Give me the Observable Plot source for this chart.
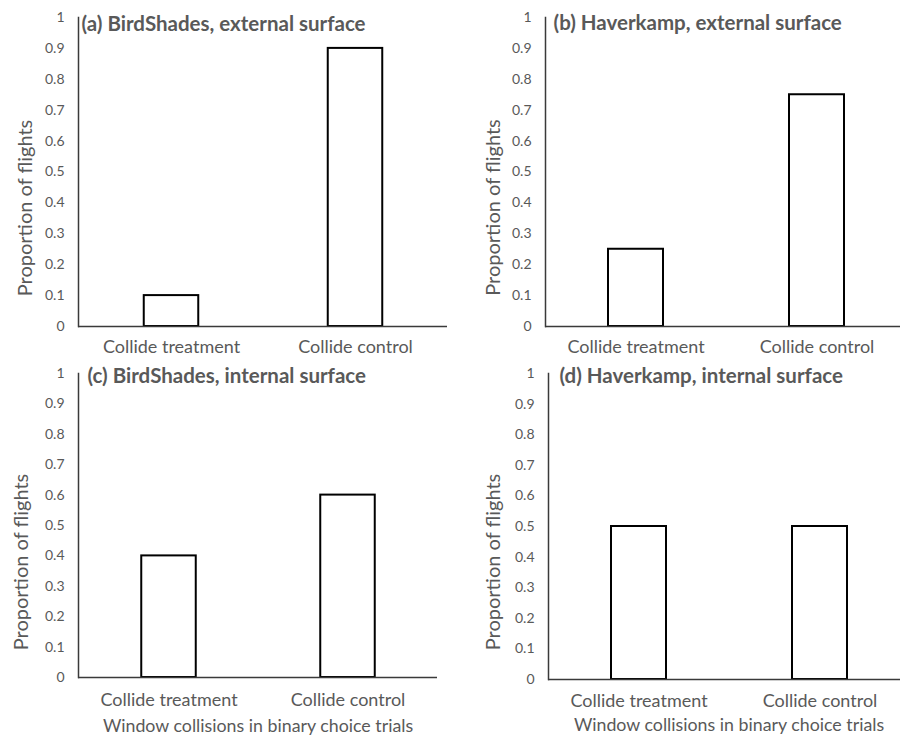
<!DOCTYPE html>
<html>
<head>
<meta charset="utf-8">
<script src="https://cdn.jsdelivr.net/npm/d3@7"></script>
<script src="https://cdn.jsdelivr.net/npm/@observablehq/plot@0.6"></script>
<style>
  html, body { margin: 0; padding: 0; background: #fff; overflow: hidden; }
  #wrap { position: relative; width: 900px; height: 736px; overflow: hidden; background: #fff; }
  #wrap > div { position: absolute; }
  svg { font-family: Lato, "Open Sans", sans-serif; }
</style>
</head>
<body>
<div id="wrap"></div>
<script>
// ---- data ----
const categories = ["Collide treatment", "Collide control"];
const panelTitles = [
  "(a) BirdShades, external surface",
  "(b) Haverkamp, external surface",
  "(c) BirdShades, internal surface",
  "(d) Haverkamp, internal surface"
];
const birdShadesExternal = [0.1, 0.9];
const haverkampExternal = [0.25, 0.75];
const birdShadesInternal = [0.4, 0.6];
const haverkampInternal = [0.5, 0.5];
const yTicks = [0, 0.1, 0.2, 0.3, 0.4, 0.5, 0.6, 0.7, 0.8, 0.9, 1];
const yLabel = "Proportion of flights";
const xLabel = "Window collisions in binary choice trials";

const seriesList = [birdShadesExternal, haverkampExternal, birdShadesInternal, haverkampInternal];

// ---- layout (pixels) ----
const layouts = [
  {left: 0,   top: 0,   h: 360, axisX: 78, xEnd: 447, top1: 17, base: 326, tDx: 3,  tDy: 7,  yDx: -53, yDy: 36,   catPad: 14, showX: false, xDx: 0,   xDy: 0},
  {left: 450, top: 0,   h: 360, axisX: 95, xEnd: 457, top1: 17, base: 326, tDx: 8,  tDy: 6,  yDx: -52, yDy: 35.5, catPad: 14, showX: false, xDx: 0,   xDy: 0},
  {left: 0,   top: 360, h: 376, axisX: 78, xEnd: 437, top1: 13, base: 317, tDx: 9,  tDy: 3,  yDx: -57, yDy: 36.5, catPad: 16, showX: true,  xDx: 0,   xDy: 49},
  {left: 450, top: 360, h: 376, axisX: 98, xEnd: 460, top1: 13, base: 319, tDx: 11, tDy: 3,  yDx: -55, yDy: 35.5, catPad: 15, showX: true,  xDx: 4.5, xDy: 46}
];

const textColor = "#595959";
const axisColor = "#3a3a3a";
const barOuterWidth = 55;

const wrap = document.getElementById("wrap");

seriesList.forEach((values, i) => {
  const L = layouts[i];
  const W = 450;
  const rows = categories.map((c, j) => ({category: c, value: values[j]}));
  const band = (L.xEnd - L.axisX) / 2;
  const inset = (band - barOuterWidth) / 2;
  const marks = [
    Plot.barY(rows, {x: "category", y: "value", fill: "white", stroke: "black", strokeWidth: 2, insetLeft: inset, insetRight: inset}),
    Plot.ruleY([0], {stroke: axisColor, strokeWidth: 1.5}),
    Plot.frame({anchor: "left", stroke: axisColor, strokeWidth: 1.5}),
    Plot.axisY({ticks: yTicks, tickSize: 0, tickPadding: 14, tickFormat: d => String(+d.toFixed(1)), fontSize: 14, fill: textColor, label: null}),
    Plot.axisX({tickSize: 0, tickPadding: L.catPad, fontSize: 18, fill: textColor, label: null}),
    Plot.text([panelTitles[i]], {frameAnchor: "top-left", dx: L.tDx, dy: L.tDy, textAnchor: "start", lineAnchor: "middle", fontWeight: "bold", fontSize: 20.5, fill: textColor}),
    Plot.text([yLabel], {frameAnchor: "left", rotate: -90, dx: L.yDx, dy: L.yDy, textAnchor: "middle", lineAnchor: "middle", fontSize: 20, fill: textColor})
  ];
  if (L.showX) {
    marks.push(Plot.text([xLabel], {frameAnchor: "bottom", dx: L.xDx, dy: L.xDy, textAnchor: "middle", lineAnchor: "middle", fontSize: 17.8, fill: textColor}));
  }
  const chart = Plot.plot({
    width: W,
    height: L.h,
    marginLeft: L.axisX,
    marginRight: Math.max(0, W - L.xEnd),
    marginTop: L.top1,
    marginBottom: L.h - L.base,
    style: {background: "white", overflow: "hidden"},
    x: {domain: categories, range: [L.axisX, L.xEnd], padding: 0, axis: null},
    y: {domain: [0, 1], axis: null},
    marks
  });
  const holder = document.createElement("div");
  holder.style.left = L.left + "px";
  holder.style.top = L.top + "px";
  holder.appendChild(chart);
  wrap.appendChild(holder);
});
</script>
</body>
</html>
